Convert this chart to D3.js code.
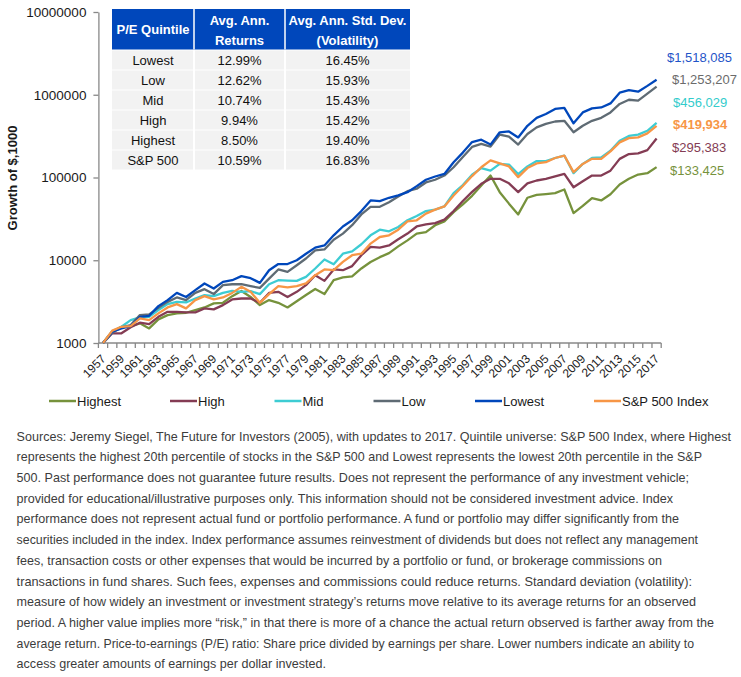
<!DOCTYPE html>
<html><head><meta charset="utf-8">
<script src="https://cdn.jsdelivr.net/npm/d3@7"></script>
<style>
html,body{margin:0;padding:0;background:#fff;}
svg{display:block;font-family:"Liberation Sans",Arial,sans-serif;}
</style></head><body>
<svg id="chart" width="741" height="677"></svg>
<script>
// ---------------- DATA ----------------
const years = d3.range(1957, 2018);
const yTicks = [1000, 10000, 100000, 1000000, 10000000];

const highest = [1000,1370,1570,1600,1730,1500,1930,2170,2280,2320,2500,2690,3010,3060,3680,4260,3600,2870,3300,3060,
  2690,3200,3800,4500,3900,5740,6200,6400,7950,9540,10900,12200,14700,17400,21000,21900,26500,29500,38100,47300,
  60000,80100,105600,66500,48300,35800,56900,61600,63100,64800,71600,37100,45300,56300,52800,62600,82500,96500,108600,112700,133425];
const high = [1000,1310,1310,1550,1760,1690,2070,2380,2380,2340,2340,2620,2550,2870,3360,3450,3450,3060,4030,4150,
  3600,4150,5000,6600,5630,7740,7580,8500,11500,14500,14200,15100,17900,21000,25600,27100,28100,31000,39300,52000,
  67000,84000,96500,96500,85000,66500,85000,92000,96500,103000,110500,76200,90000,105600,105600,121000,168000,192000,196000,214000,295383];
const mid = [1000,1390,1570,1890,2040,2070,2500,2950,3140,3090,3450,3790,3680,4030,4260,4150,4230,3900,5130,5740,
  5680,5630,6290,7950,10200,8950,12000,12800,15600,20000,23400,22400,25200,30400,34200,39300,40900,44700,64800,81000,
  108000,130000,121000,146000,143000,110000,136000,158000,158000,172000,184000,113000,146000,172000,175000,211000,278000,318000,330000,367000,456029];
const low = [1000,1330,1550,1650,2170,2220,2660,3140,3550,3300,4030,4470,3900,5000,5130,5130,4860,4630,6000,7740,
  7230,8700,10500,13200,13500,17700,21000,26500,35800,44200,44200,50300,59000,68400,73100,87100,93900,105600,133000,177000,
  234000,255000,236000,330000,311000,250000,335000,404000,445000,475000,484000,352000,422000,484000,526000,612000,774000,870000,848000,1030000,1253207];
const lowest = [1000,1370,1500,1600,2070,2130,2790,3300,4030,3600,4350,5240,4560,5480,5740,6420,6070,5330,7560,9000,
  9000,10000,12000,14200,15100,20000,25600,30400,39300,52800,51900,56900,60700,66500,78600,93900,102800,110500,152800,200000,
  268000,286000,250000,352000,360000,305000,422000,526000,585000,674000,694000,452000,612000,684000,702000,786000,1060000,1140000,1090000,1280000,1518085];
const sp500 = [1000,1410,1570,1600,1980,1890,2280,2690,2950,2620,3300,3680,3360,3550,4030,4770,4150,3060,3900,4860,
  4700,4860,5240,6600,7740,7580,9540,11500,12000,15900,19100,20000,23400,29500,30400,36600,40900,44700,60700,79000,
  104000,133000,161000,148000,136000,101000,130000,148000,153000,172000,184000,116000,146000,168000,168000,207000,266000,299000,305000,341000,419934];

const seriesNames = ["Highest","High","Mid","Low","Lowest","S&P 500 Index"];
const seriesValues = [highest, high, mid, low, lowest, sp500];
const seriesColors = ["#76923C","#843C54","#3DCCD3","#5F6B74","#0047BB","#F79646"];

const tableHeader = [["P/E Quintile"],["Avg. Ann.","Returns"],["Avg. Ann. Std. Dev.","(Volatility)"]];
const tableRows = ["Lowest","Low","Mid","High","Highest","S&P 500"];
const tableReturns = ["12.99%","12.62%","10.74%","9.94%","8.50%","10.59%"];
const tableVol = ["16.45%","15.93%","15.43%","15.42%","19.40%","16.83%"];

const footnote = [
 "Sources: Jeremy Siegel, The Future for Investors (2005), with updates to 2017. Quintile universe: S&P 500 Index, where Highest",
 "represents the highest 20th percentile of stocks in the S&P 500 and Lowest represents the lowest 20th percentile in the S&P",
 "500. Past performance does not guarantee future results. Does not represent the performance of any investment vehicle;",
 "provided for educational/illustrative purposes only. This information should not be considered investment advice. Index",
 "performance does not represent actual fund or portfolio performance. A fund or portfolio may differ significantly from the",
 "securities included in the index. Index performance assumes reinvestment of dividends but does not reflect any management",
 "fees, transaction costs or other expenses that would be incurred by a portfolio or fund, or brokerage commissions on",
 "transactions in fund shares. Such fees, expenses and commissions could reduce returns. Standard deviation (volatility):",
 "measure of how widely an investment or investment strategy\u2019s returns move relative to its average returns for an observed",
 "period. A higher value implies more \u201crisk,\u201d in that there is more of a chance the actual return observed is farther away from the",
 "average return. Price-to-earnings (P/E) ratio: Share price divided by earnings per share. Lower numbers indicate an ability to",
 "access greater amounts of earnings per dollar invested."
];

// ---------------- LAYOUT ----------------
const svg = d3.select("#chart");
const axisColor = "#888888";
const x = d3.scaleBand().domain(years).range([98.4, 661.2]).padding(0);
const bw = x.bandwidth();
const cx = yr => x(yr) + bw/2;
const y = d3.scaleLog().domain([1000, 10000000]).range([343, 12]);

// Y axis
const yAxis = svg.append("g").attr("transform","translate(98.4,0)")
  .call(d3.axisLeft(y).tickValues(yTicks).tickFormat(d3.format("d")).tickSize(5).tickSizeOuter(0).tickPadding(7));
yAxis.select(".domain").attr("stroke",axisColor).attr("stroke-width",1.3);
yAxis.selectAll(".tick line").attr("stroke",axisColor).attr("stroke-width",1.3);
yAxis.selectAll(".tick text").attr("font-size","13.5px").attr("fill","#1a1a1a").attr("font-family","Liberation Sans, Arial, sans-serif");

// X axis
const xg = svg.append("g");
xg.append("line").attr("x1",98.4).attr("x2",661.2).attr("y1",343).attr("y2",343).attr("stroke",axisColor).attr("stroke-width",1.3);
const bounds = years.map(yr => x(yr)).concat([x(years[years.length-1]) + bw]);
xg.selectAll("line.tk").data(bounds).enter().append("line").attr("class","tk")
  .attr("x1",d=>d).attr("x2",d=>d).attr("y1",343).attr("y2",348).attr("stroke",axisColor).attr("stroke-width",1.3);
xg.selectAll("text").data(years.filter((d,i)=>i%2===0)).enter().append("text")
  .attr("transform",d=>`translate(${cx(d)+3.5},359.5) rotate(-45)`)
  .attr("text-anchor","end").attr("font-size","12px").attr("fill","#1a1a1a").text(d=>d);

// Y title
svg.append("text").attr("transform","translate(17,178) rotate(-90)").attr("text-anchor","middle")
  .attr("font-size","13px").attr("font-weight","bold").attr("fill","#1a1a1a").text("Growth of $,1000");

// Lines
const line = d3.line().x((d,i)=>cx(years[i])).y(d=>y(d));
svg.append("g").selectAll("path").data(seriesValues).enter().append("path")
  .attr("d",d=>line(d)).attr("fill","none").attr("stroke",(d,i)=>seriesColors[i])
  .attr("stroke-width",2.3).attr("stroke-linejoin","round");

// End labels
const endLabelPos = [[670,170],[672,147],[673,102],[672,79],[667,57],[673,124]];
const endLabelColors = ["#76923C","#843C54","#33CCCC","#6b6b6b","#1F55C8","#F79646"];
const fmt = d3.format("$,");
svg.append("g").selectAll("text").data(seriesValues).enter().append("text")
  .attr("x",(d,i)=>endLabelPos[i][0]).attr("y",(d,i)=>endLabelPos[i][1])
  .attr("dy","0.35em").attr("font-size","13px").attr("fill",(d,i)=>endLabelColors[i])
  .attr("font-weight",(d,i)=>i===5?"bold":"normal")
  .text(d=>fmt(d[d.length-1]));

// Legend
const legX = [49,170,274.5,373.5,475,594];
const lg = svg.append("g").selectAll("g").data(seriesNames).enter().append("g")
  .attr("transform",(d,i)=>`translate(${legX[i]},401)`);
lg.append("line").attr("x1",0).attr("x2",27).attr("stroke",(d,i)=>seriesColors[i]).attr("stroke-width",2.5);
lg.append("text").attr("x",28).attr("dy","0.35em").attr("font-size","13px").attr("fill","#1a1a1a").text(d=>d);

// Table
const tbl = svg.append("g");
const colX = [112,194,285,410];
const rowY = [9,49.5,69.5,89.5,109.5,129.5,149.5,169.5];
tbl.append("rect").attr("x",112).attr("y",9).attr("width",298).attr("height",40.5).attr("fill","#0047BB");
for (let c=0;c<3;c++){
  const hx = (colX[c]+colX[c+1])/2;
  const lines = tableHeader[c];
  lines.forEach((t,k)=>{
    const yy = lines.length===1 ? 29.3 : (k===0?20.7:40.3);
    tbl.append("text").attr("x",hx).attr("y",yy).attr("dy","0.35em").attr("text-anchor","middle")
      .attr("font-size","13px").attr("font-weight","bold").attr("fill","#fff").text(t);
  });
}
tableRows.forEach((r,i)=>{
  const vals=[r,tableReturns[i],tableVol[i]];
  for(let c=0;c<3;c++){
    tbl.append("rect").attr("x",colX[c]+(c?1:0)).attr("y",rowY[i+1]+1)
      .attr("width",colX[c+1]-colX[c]-(c?1:0)-(c<2?1:0)).attr("height",19).attr("fill","#F2F2F2");
    tbl.append("text").attr("x",(colX[c]+colX[c+1])/2).attr("y",rowY[i+1]+11).attr("dy","0.35em")
      .attr("text-anchor","middle").attr("font-size","13px").attr("fill","#111").text(vals[c]);
  }
});
[194,285].forEach(sx=>tbl.append("line").attr("x1",sx).attr("x2",sx).attr("y1",9).attr("y2",49.5).attr("stroke","#fff").attr("stroke-width",1.5));

// Footnote (condensed via horizontal scale)
const fnEnds = [731,702,689,673,679,698,662,692,696,714,694,326];
const sx = 0.8;
const fg = svg.append("g").selectAll("g").data(footnote).enter().append("g")
  .attr("transform",(d,i)=>`translate(16.6,${440.5+i*20.72}) scale(${sx},1)`);
fg.append("text").attr("x",0).attr("y",0)
  .attr("font-size","13px").attr("fill","#3c3c3c")
  .attr("textLength",(d,i)=>(fnEnds[i]-16.6)/sx).attr("lengthAdjust","spacingAndGlyphs")
  .text(d=>d);
</script>
</body></html>
